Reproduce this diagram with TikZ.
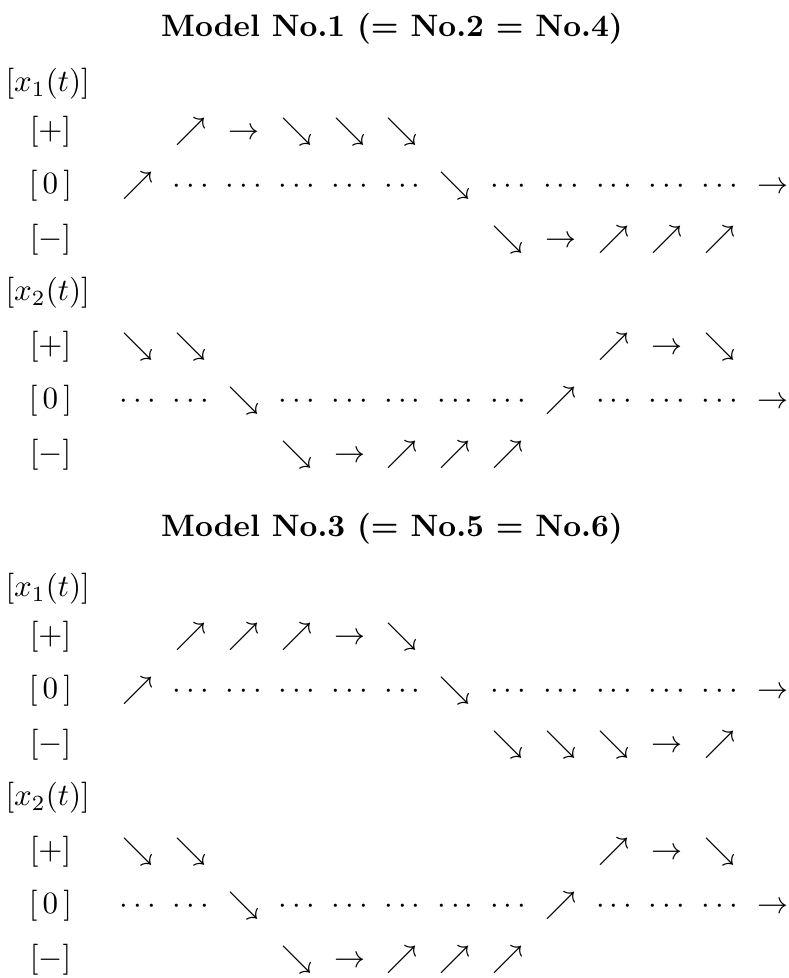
\documentclass[tikz,border=0pt]{standalone}
\usepackage{amsmath,amssymb}
\usepackage{tikz}
\tikzset{
    mtitle/.style={inner sep=0pt, text height=7.5pt, text depth=2.5pt, font=\bfseries\boldmath},
    mlabel/.style={inner sep=0pt, text height=7.5pt, text depth=2.5pt},
    msym/.style={inner sep=0pt, text height=7.5pt, text depth=2.5pt},
}
\newcommand{\dts}{{\cdot}\,{\cdot}\,{\cdot}}
\newcommand{\symrow}[3]{%
    \foreach \col/\sy in {#3}
        \node [msym] (#1-\col) at ({138+52.9*(\col-1)}, #2) {$\sy$};}

\begin{document}
\begin{tikzpicture}[x=0.3226pt, y=-0.3226pt]
    \useasboundingbox (0,0) rectangle (789,978);

    % Model No.1
    \node [mtitle] (title1) at (392,29) {Model No.1 ($=$ No.2 $=$ No.4)};
    \node [mlabel, anchor=west] (a-x1) at (5,84) {$[x_1(t)]$};
    \node [mlabel] (a-x1p) at (50.5,132) {$[+]$};
    \node [mlabel] (a-x1z) at (50.5,186) {$[\,0\,]$};
    \node [mlabel] (a-x1m) at (50.5,240) {$[-]$};
    \node [mlabel, anchor=west] (a-x2) at (5,293) {$[x_2(t)]$};
    \node [mlabel] (a-x2p) at (50.5,347) {$[+]$};
    \node [mlabel] (a-x2z) at (50.5,401) {$[\,0\,]$};
    \node [mlabel] (a-x2m) at (50.5,455) {$[-]$};

    \symrow{a-x1p}{132}{2/\nearrow, 3/\rightarrow, 4/\searrow, 5/\searrow, 6/\searrow}
    \symrow{a-x1z}{186}{1/\nearrow, 2/\dts, 3/\dts, 4/\dts, 5/\dts, 6/\dts, 7/\searrow,
        8/\dts, 9/\dts, 10/\dts, 11/\dts, 12/\dts, 13/\rightarrow}
    \symrow{a-x1m}{240}{8/\searrow, 9/\rightarrow, 10/\nearrow, 11/\nearrow, 12/\nearrow}
    \symrow{a-x2p}{347}{1/\searrow, 2/\searrow, 10/\nearrow, 11/\rightarrow, 12/\searrow}
    \symrow{a-x2z}{401}{1/\dts, 2/\dts, 3/\searrow, 4/\dts, 5/\dts, 6/\dts, 7/\dts, 8/\dts,
        9/\nearrow, 10/\dts, 11/\dts, 12/\dts, 13/\rightarrow}
    \symrow{a-x2m}{455}{4/\searrow, 5/\rightarrow, 6/\nearrow, 7/\nearrow, 8/\nearrow}

    % Model No.3
    \node [mtitle] (title3) at (392,529) {Model No.3 ($=$ No.5 $=$ No.6)};
    \node [mlabel, anchor=west] (b-x1) at (5,589) {$[x_1(t)]$};
    \node [mlabel] (b-x1p) at (50.5,637) {$[+]$};
    \node [mlabel] (b-x1z) at (50.5,691) {$[\,0\,]$};
    \node [mlabel] (b-x1m) at (50.5,745) {$[-]$};
    \node [mlabel, anchor=west] (b-x2) at (5,798) {$[x_2(t)]$};
    \node [mlabel] (b-x2p) at (50.5,852) {$[+]$};
    \node [mlabel] (b-x2z) at (50.5,906) {$[\,0\,]$};
    \node [mlabel] (b-x2m) at (50.5,960) {$[-]$};

    \symrow{b-x1p}{637}{2/\nearrow, 3/\nearrow, 4/\nearrow, 5/\rightarrow, 6/\searrow}
    \symrow{b-x1z}{691}{1/\nearrow, 2/\dts, 3/\dts, 4/\dts, 5/\dts, 6/\dts, 7/\searrow,
        8/\dts, 9/\dts, 10/\dts, 11/\dts, 12/\dts, 13/\rightarrow}
    \symrow{b-x1m}{745}{8/\searrow, 9/\searrow, 10/\searrow, 11/\rightarrow, 12/\nearrow}
    \symrow{b-x2p}{852}{1/\searrow, 2/\searrow, 10/\nearrow, 11/\rightarrow, 12/\searrow}
    \symrow{b-x2z}{906}{1/\dts, 2/\dts, 3/\searrow, 4/\dts, 5/\dts, 6/\dts, 7/\dts, 8/\dts,
        9/\nearrow, 10/\dts, 11/\dts, 12/\dts, 13/\rightarrow}
    \symrow{b-x2m}{960}{4/\searrow, 5/\rightarrow, 6/\nearrow, 7/\nearrow, 8/\nearrow}
\end{tikzpicture}
\end{document}
